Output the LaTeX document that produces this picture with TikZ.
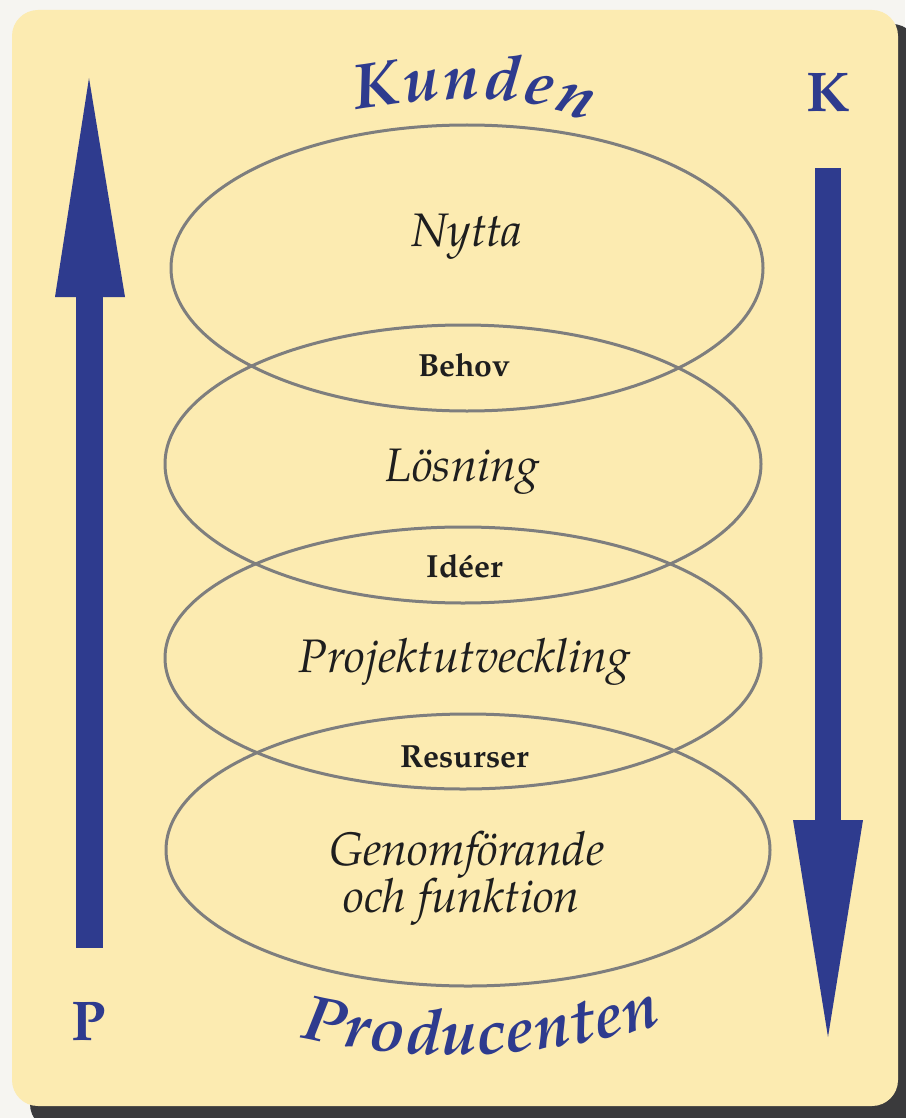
\documentclass[tikz,border=0pt]{standalone}
\usepackage{fontspec}
\IfFontExistsTF{TeX Gyre Pagella}{\setmainfont{TeX Gyre Pagella}}{\setmainfont{Liberation Serif}}
\usetikzlibrary{shapes.geometric,decorations.text}
\definecolor{cardbg}{HTML}{FCEBB1}
\definecolor{outerbg}{HTML}{F6F5F1}
\definecolor{shadowc}{HTML}{3A3A3C}
\definecolor{arrowblue}{HTML}{2E3B8E}
\definecolor{ringgray}{HTML}{7E7E7E}
\definecolor{inkc}{HTML}{1E1E1E}
\begin{document}
\begin{tikzpicture}[x=1pt,y=-1pt,
  ring/.style={ellipse, draw=ringgray, line width=3pt, inner sep=0pt},
  bigit/.style={text=inkc, font=\fontsize{47}{50}\selectfont\itshape, inner sep=0pt, anchor=base},
  smallbf/.style={text=inkc, font=\fontsize{32}{34}\selectfont\bfseries, inner sep=0pt, anchor=base},
  letterbf/.style={text=arrowblue, font=\fontsize{56}{60}\selectfont\bfseries, inner sep=0pt, anchor=base},
  arrowfill/.style={fill=arrowblue}
]
\useasboundingbox (0,0) rectangle (905,1118);
\fill[outerbg] (0,0) rectangle (905,1118);
% shadow and card
\fill[shadowc, rounded corners=26pt] (30,24) rectangle (918,1130);
\fill[cardbg, rounded corners=26pt] (12,10) rectangle (898,1106);
% left arrow (up)
\fill[arrowfill] (76,297) rectangle (103,948);
\fill[arrowfill] (55,297) -- (89,78) -- (125,297) -- cycle;
% right arrow (down)
\fill[arrowfill] (815,168) rectangle (841,820);
\fill[arrowfill] (793,820) -- (863,820) -- (828,1037) -- cycle;
% ellipses
\node[ring, minimum width=592pt, minimum height=286pt] (e1) at (467,268) {};
\node[ring, minimum width=596pt, minimum height=278pt] (e2) at (463,464) {};
\node[ring, minimum width=596pt, minimum height=262pt] (e3) at (463,658) {};
\node[ring, minimum width=604pt, minimum height=272pt] (e4) at (468,850) {};
% labels
\node[bigit] (nytta) at (467,246) {Nytta};
\node[smallbf] (behov) at (464,376) {Behov};
\node[bigit] (losning) at (463,481) {Lösning};
\node[smallbf] (ideer) at (465,577) {Idéer};
\node[bigit] (projekt) at (465,672) {Projektutveckling};
\node[smallbf] (resurser) at (465,767) {Resurser};
\node[bigit] (genom) at (467,865) {Genomförande};
\node[bigit] (funktion) at (462,912) {och funktion};
% corner letters
\node[letterbf] (kletter) at (828,112) {K};
\node[letterbf] (pletter) at (89,1040) {P};
% curved titles
\path[decorate, decoration={text along path, text align=fit to path,
  text={|\color{arrowblue}\fontsize{64}{66}\selectfont\bfseries\itshape|Kunden}}]
  (357,110) .. controls (430,99) and (515,86) .. (586,122);
\path[decorate, decoration={text along path, text align=fit to path,
  text={|\color{arrowblue}\fontsize{64}{66}\selectfont\bfseries\itshape|Producenten}}]
  (300,1037) .. controls (400,1061) and (520,1064) .. (662,1024);
\end{tikzpicture}
\end{document}
